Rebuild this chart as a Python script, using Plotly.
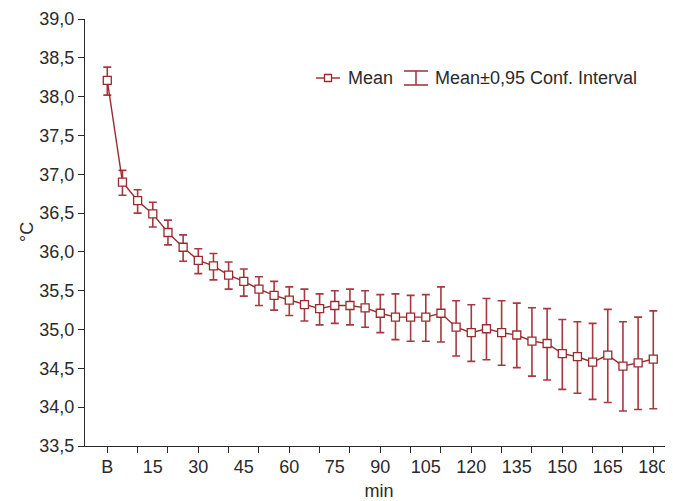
import plotly.graph_objects as go

minutes = [0, 5, 10, 15, 20, 25, 30, 35, 40, 45, 50, 55, 60, 65, 70, 75, 80, 85, 90,
           95, 100, 105, 110, 115, 120, 125, 130, 135, 140, 145, 150, 155, 160, 165, 170, 175, 180]
mean = [38.21, 36.90, 36.66, 36.49, 36.25, 36.06, 35.89, 35.82, 35.70, 35.62, 35.52, 35.44, 35.38,
        35.32, 35.27, 35.31, 35.31, 35.28, 35.21, 35.16, 35.16, 35.16, 35.21, 35.03, 34.96, 35.01,
        34.96, 34.93, 34.85, 34.82, 34.69, 34.65, 34.58, 34.67, 34.53, 34.57, 34.62]
upper = [38.38, 37.05, 36.80, 36.64, 36.41, 36.22, 36.04, 35.98, 35.87, 35.78, 35.68, 35.62, 35.55,
         35.52, 35.46, 35.50, 35.52, 35.50, 35.45, 35.46, 35.44, 35.45, 35.55, 35.37, 35.32, 35.40,
         35.37, 35.34, 35.28, 35.27, 35.13, 35.10, 35.08, 35.26, 35.10, 35.16, 35.24]
lower = [38.02, 36.73, 36.50, 36.32, 36.09, 35.88, 35.72, 35.64, 35.52, 35.43, 35.31, 35.25, 35.18,
         35.11, 35.06, 35.08, 35.06, 35.03, 34.96, 34.87, 34.85, 34.85, 34.84, 34.66, 34.59, 34.61,
         34.54, 34.51, 34.40, 34.35, 34.23, 34.18, 34.10, 34.06, 33.95, 33.97, 33.98]

label_ticks = [0, 15, 30, 45, 60, 75, 90, 105, 120, 135, 150, 165, 180]
label_text = ["B", "15", "30", "45", "60", "75", "90", "105", "120", "135", "150", "165", "180"]
mark_ticks = [0, 10, 20, 30, 40, 50, 60, 70, 80, 90, 100, 110, 120, 130, 140, 150, 160, 170, 180]
y_ticks = [33.5, 34.0, 34.5, 35.0, 35.5, 36.0, 36.5, 37.0, 37.5, 38.0, 38.5, 39.0]

LINE = "#9a2a2e"
ERR = "#a53a40"
TXT = "#2a2a2a"
FONT = "Liberation Sans, Arial, sans-serif"
FS = 18

err_plus = [u - m for u, m in zip(upper, mean)]
err_minus = [m - l for m, l in zip(mean, lower)]

fig = go.Figure()
fig.add_trace(go.Scatter(
    x=minutes, y=mean, mode="lines+markers", name="Mean",
    line=dict(color=LINE, width=1.4),
    marker=dict(symbol="square", size=8, color="white", line=dict(color=LINE, width=1.3)),
    error_y=dict(type="data", symmetric=False, array=err_plus, arrayminus=err_minus,
                 color=ERR, thickness=1.6, width=4),
    showlegend=False,
))
# overlay axis carrying the unlabeled tick marks every 10 min
fig.add_trace(go.Scatter(x=[None], y=[None], xaxis="x2", showlegend=False, hoverinfo="skip"))

# page body adds an 8px offset; figure sized to fill the remaining window
OFF = 8
W, H = 673 - OFF, 501 - OFF
L, R, T, B = 85 - OFF, 0, 19 - OFF, 501 - 446
pw, ph = W - L - R, H - T - B
xr = [-7.35, 186.5]

def px(x):  # screen pixel -> paper
    return (x - OFF - L) / pw

def py(y):
    return (H - B - (y - OFF)) / ph

shapes = [
    dict(type="line", xref="paper", yref="paper", x0=px(316), x1=px(340), y0=py(78), y1=py(78),
         line=dict(color=LINE, width=1.4)),
    dict(type="rect", xref="paper", yref="paper", x0=px(324.5), x1=px(331.5), y0=py(74.5), y1=py(81.5),
         line=dict(color=LINE, width=1.3), fillcolor="white"),
    dict(type="line", xref="paper", yref="paper", x0=px(416), x1=px(416), y0=py(71), y1=py(85),
         line=dict(color=ERR, width=1.6)),
    dict(type="line", xref="paper", yref="paper", x0=px(404), x1=px(428), y0=py(71), y1=py(71),
         line=dict(color=ERR, width=1.6)),
    dict(type="line", xref="paper", yref="paper", x0=px(404), x1=px(428), y0=py(85), y1=py(85),
         line=dict(color=ERR, width=1.6)),
]
annotations = [
    dict(text="Mean", xref="paper", yref="paper", x=px(346), y=py(78), xanchor="left", yanchor="middle",
         showarrow=False, font=dict(family=FONT, size=FS, color=TXT)),
    dict(text="Mean±0,95 Conf. Interval", xref="paper", yref="paper", x=px(433), y=py(78),
         xanchor="left", yanchor="middle", showarrow=False, font=dict(family=FONT, size=FS, color=TXT)),
    dict(text="°C", xref="paper", yref="paper", x=px(27), y=py(232), xanchor="center", yanchor="middle",
         textangle=-90, showarrow=False, font=dict(family=FONT, size=FS, color=TXT)),
]

fig.update_layout(
    width=W, height=H, margin=dict(l=L, r=R, t=T, b=B, autoexpand=False),
    paper_bgcolor="white", plot_bgcolor="white",
    separators=",.",
    font=dict(family=FONT, size=FS, color=TXT),
    shapes=shapes, annotations=annotations,
    xaxis=dict(range=xr, tickmode="array", tickvals=label_ticks, ticktext=label_text,
               ticks="", showline=True, linecolor=TXT, linewidth=1.2, showgrid=False, zeroline=False,
               automargin=False, ticklabelstandoff=4,
               title=dict(text="min", standoff=12, font=dict(size=FS)),
               tickfont=dict(size=FS)),
    xaxis2=dict(range=xr, overlaying="x", anchor="y", side="bottom", tickmode="array",
                tickvals=mark_ticks, showticklabels=False, ticks="outside", ticklen=6,
                tickwidth=1.2, tickcolor=TXT, showline=False, showgrid=False, zeroline=False,
                automargin=False),
    yaxis=dict(range=[33.5, 39.0], tickmode="array", tickvals=y_ticks, tickformat=".1f",
               ticks="outside", ticklen=6, tickwidth=1.2, tickcolor=TXT, automargin=False,
               showline=True, linecolor=TXT, linewidth=1.2, showgrid=False, zeroline=False,
               tickfont=dict(size=FS)),
)

fig.write_html("out.html")
